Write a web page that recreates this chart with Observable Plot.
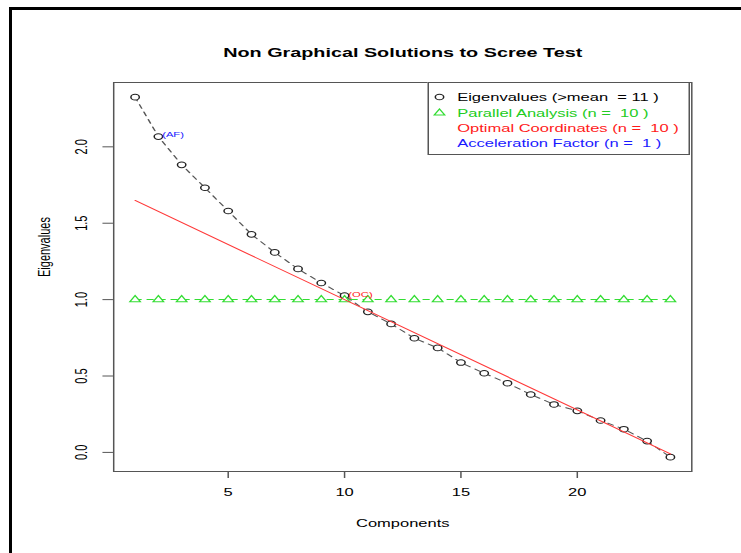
<!DOCTYPE html>
<html><head><meta charset="utf-8">
<script src="https://cdn.jsdelivr.net/npm/d3@7"></script>
<script src="https://cdn.jsdelivr.net/npm/@observablehq/plot@0.6"></script>
<style>
html,body{margin:0;padding:0;background:#fff;overflow:hidden;}
#page{position:relative;width:741px;height:553px;overflow:hidden;background:#fff;}
#stretch{position:absolute;left:0;top:0;width:494px;height:553px;transform:scaleX(1.5);transform-origin:0 0;}
#chart svg{display:block;}
#border{position:absolute;left:9px;top:7px;width:800px;height:600px;border-left:3px solid #000;border-top:3px solid #000;pointer-events:none;}
#legend{position:absolute;left:285.3px;top:82px;width:174.4px;height:73px;border:1px solid #555;box-sizing:border-box;background:#fff;font-family:'Liberation Sans',Arial,sans-serif;font-size:11px;}
#legend .row{position:absolute;left:0;height:14px;width:100%;}
#legend .lab{position:absolute;left:18.5px;top:0;line-height:14px;white-space:pre;}
#legend svg{position:absolute;left:2px;top:2px;}
</style></head><body>
<div id="page"><div id="stretch"><div id="chart"></div><div id="legend"></div></div><div id="border"></div></div>
<script>
const components = [1,2,3,4,5,6,7,8,9,10,11,12,13,14,15,16,17,18,19,20,21,22,23,24];
const eigenvalues = [2.325,2.067,1.882,1.732,1.580,1.427,1.309,1.201,1.109,1.026,0.920,0.841,0.747,0.684,0.588,0.518,0.453,0.379,0.314,0.272,0.209,0.152,0.074,-0.031];
const parallel = [1,1,1,1,1,1,1,1,1,1,1,1,1,1,1,1,1,1,1,1,1,1,1,1];
const ocX = [1, 24];
const ocY = [1.649, -0.01];
const xTicks = [5, 10, 15, 20];
const yTicks = [0, 0.5, 1, 1.5, 2];
const titleText = "Non Graphical Solutions to Scree Test";
const xLabel = "Components";
const yLabel = "Eigenvalues";
const legendLabels = ["Eigenvalues (>mean  = 11 )", "Parallel Analysis (n =  10 )", "Optimal Coordinates (n =  10 )", "Acceleration Factor (n =  1 )"];
const legendColors = ["#000000", "#22cc22", "#ff1a1a", "#1a1aff"];
const legendSymbols = ["circle", "triangle", null, null];
const afComponent = 2;
const ocComponent = 10;

const eig = components.map((c, i) => ({c, v: eigenvalues[i], p: parallel[i]}));
const oc = ocX.map((x, i) => ({x, y: ocY[i]}));
const font = "'Liberation Sans', Arial, sans-serif";

const plot = Plot.plot({
  width: 494, height: 553,
  marginLeft: 75.3, marginRight: 33.3, marginTop: 82, marginBottom: 82,
  x: {domain: [0.08, 24.92]},
  y: {domain: [-0.125, 2.421]},
  style: {fontFamily: font, fontSize: "11px", color: "#000", background: "#fff", overflow: "visible"},
  marks: [
    Plot.axisX({ticks: xTicks, tickSize: 7, tickPadding: 10, label: null, stroke: "#555", fontSize: 11, fill: "#000"}),
    Plot.axisY({ticks: yTicks, tickSize: 7, tickRotate: -90, tickPadding: 11, tickFormat: d3.format(".1f"), label: null, stroke: "#555", fontSize: 11, fill: "#000"}),
    Plot.line(eig, {x: "c", y: "v", stroke: "#555", strokeWidth: 1, strokeDasharray: "4,4"}),
    Plot.dot(eig, {x: "c", y: "v", r: 2.8, stroke: "#222", fill: "#fff", strokeWidth: 1}),
    Plot.line(eig, {x: "c", y: "p", stroke: "#33dd33", strokeWidth: 1, strokeDasharray: "4,4"}),
    Plot.dot(eig, {x: "c", y: "p", symbol: "triangle", r: 2.6, stroke: "#33dd33", fill: "#fff", strokeWidth: 1}),
    Plot.line(oc, {x: "x", y: "y", stroke: "#ff3838", strokeWidth: 1}),
    Plot.text(eig.filter(d => d.c === afComponent), {x: "c", y: "v", text: () => "(AF)", fill: "#1a1aff", textAnchor: "start", dx: 2.5, dy: -1.5, fontSize: 7.5}),
    Plot.text(eig.filter(d => d.c === ocComponent), {x: "c", y: "v", text: () => "(OC)", fill: "#ff1a1a", textAnchor: "start", dx: 2.5, dy: -1.5, fontSize: 7.5}),
    Plot.frame({stroke: "#555", strokeWidth: 1}),
    Plot.text([titleText], {text: d => d, frameAnchor: "top", dy: -35, fontSize: 13.2, fontWeight: "bold", fill: "#000"}),
    Plot.text([xLabel], {text: d => d, frameAnchor: "bottom", dy: 55, fontSize: 11, fill: "#000"}),
    Plot.text([yLabel], {text: d => d, frameAnchor: "left", dx: -46, rotate: -90, fontSize: 11, fill: "#000"})
  ]
});
document.getElementById("chart").append(plot);

const legend = document.getElementById("legend");
const rowTops = [7, 23, 37.5, 52.5];
legendLabels.forEach((lab, i) => {
  const row = document.createElement("div");
  row.className = "row";
  row.style.top = rowTops[i] + "px";
  if (legendSymbols[i]) {
    const ns = "http://www.w3.org/2000/svg";
    const s = document.createElementNS(ns, "svg");
    s.setAttribute("width", 10); s.setAttribute("height", 10);
    s.setAttribute("viewBox", "-5 -5 10 10");
    const p = document.createElementNS(ns, "path");
    p.setAttribute("d", d3.symbol(legendSymbols[i] === "circle" ? d3.symbolCircle : d3.symbolTriangle, legendSymbols[i] === "circle" ? Math.PI * 2.8 * 2.8 : Math.PI * 2.6 * 2.6)());
    p.setAttribute("fill", "none");
    p.setAttribute("stroke", legendSymbols[i] === "circle" ? "#222" : "#33dd33");
    s.append(p);
    row.append(s);
  }
  const t = document.createElement("span");
  t.className = "lab";
  t.style.color = legendColors[i];
  t.textContent = lab;
  row.append(t);
  legend.append(row);
});
</script>
</body></html>
